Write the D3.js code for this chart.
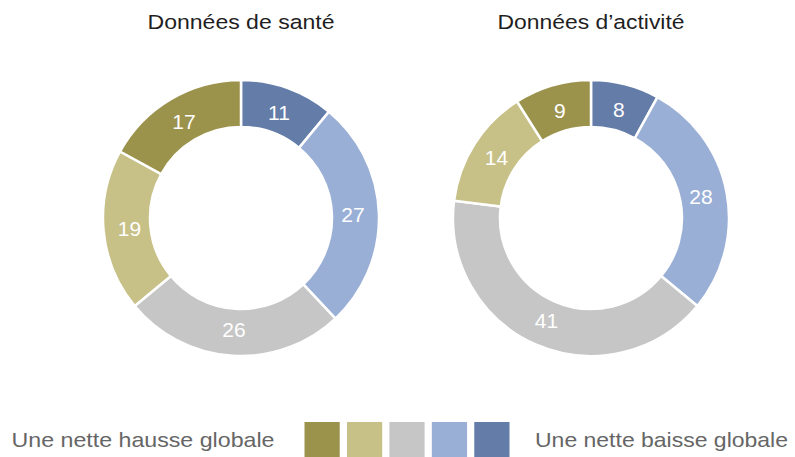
<!DOCTYPE html>
<html>
<head>
<meta charset="utf-8">
<script src="https://cdn.jsdelivr.net/npm/d3@7"></script>
<style>
  html, body { margin: 0; padding: 0; background: #fff; }
  svg { display: block; }
  text { font-family: "Liberation Sans", Arial, Helvetica, sans-serif; }
</style>
</head>
<body>
<svg id="chart" width="795" height="457"></svg>
<script>
// Response categories, from strong rise to strong fall
const categories = ["Forte hausse", "Hausse", "Stable", "Baisse", "Forte baisse"];
const colors = ["#9b924c", "#c7c087", "#c6c6c6", "#9aafd6", "#637ca8"];

// Share of respondents (%) per category
const santeValues = [17, 19, 26, 27, 11];
const activiteValues = [9, 14, 41, 28, 8];

const chartTitles = ["Données de santé", "Données d’activité"];
const legendLeft = "Une nette hausse globale";
const legendRight = "Une nette baisse globale";

const svg = d3.select("#chart");
const outerR = 138, innerR = 91;
const centers = [[241, 218], [591, 218]];

const color = d3.scaleOrdinal().domain(categories).range(colors);

// Slices run clockwise from 12 o'clock, starting with the "strong fall" slice
const drawOrder = [4, 3, 2, 1, 0];

const pie = d3.pie()
  .sort(null)
  .value(d => d.value);

const arc = d3.arc().innerRadius(innerR).outerRadius(outerR);
const labelArc = d3.arc().innerRadius(112).outerRadius(112);

[santeValues, activiteValues].forEach((vals, i) => {
  const data = drawOrder.map(k => ({ cat: categories[k], value: vals[k] }));
  const g = svg.append("g").attr("transform", `translate(${centers[i][0]},${centers[i][1]})`);

  g.selectAll("path.slice")
    .data(pie(data))
    .join("path")
    .attr("class", "slice")
    .attr("d", arc)
    .attr("fill", d => color(d.data.cat))
    .attr("stroke", "#fff")
    .attr("stroke-width", 2.5)
    .attr("stroke-linejoin", "miter");

  g.selectAll("text.val")
    .data(pie(data))
    .join("text")
    .attr("class", "val")
    .attr("transform", d => `translate(${labelArc.centroid(d)})`)
    .attr("text-anchor", "middle")
    .attr("dy", "0.35em")
    .attr("fill", "#fff")
    .attr("font-size", 21)
    .text(d => d.data.value);

  svg.append("text")
    .attr("x", centers[i][0])
    .attr("y", 29)
    .attr("text-anchor", "middle")
    .attr("fill", "#1f1f1f")
    .attr("font-size", 20.5)
    .attr("textLength", 187)
    .attr("lengthAdjust", "spacingAndGlyphs")
    .text(chartTitles[i]);
});

// Legend: colour scale between the two extremes
const legendX = d3.scaleBand().domain(categories).range([304.5, 509.5]).paddingInner(0.17);
svg.append("g").selectAll("rect")
  .data(categories)
  .join("rect")
  .attr("x", d => legendX(d))
  .attr("y", 422)
  .attr("width", legendX.bandwidth())
  .attr("height", 35)
  .attr("fill", d => color(d));

svg.append("text")
  .attr("x", 11.5)
  .attr("y", 447)
  .attr("fill", "#666")
  .attr("font-size", 21)
  .attr("textLength", 263)
  .attr("lengthAdjust", "spacingAndGlyphs")
  .text(legendLeft);

svg.append("text")
  .attr("x", 535)
  .attr("y", 447)
  .attr("fill", "#666")
  .attr("font-size", 21)
  .attr("textLength", 253)
  .attr("lengthAdjust", "spacingAndGlyphs")
  .text(legendRight);
</script>
</body>
</html>
